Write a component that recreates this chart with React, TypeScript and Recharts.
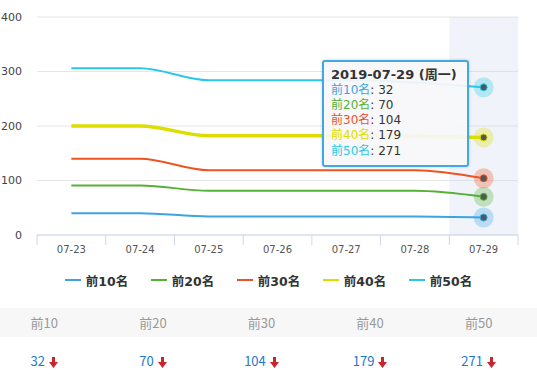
import React from 'react';
import { ComposedChart, Line, Bar, XAxis, YAxis, CartesianGrid, Tooltip, Legend } from 'recharts';

const dates = ['07-23', '07-24', '07-25', '07-26', '07-27', '07-28', '07-29'];
const year = '2019';
const weekdays = ['周二', '周三', '周四', '周五', '周六', '周日', '周一'];
const top10 = [40, 40, 34, 34, 34, 34, 32];
const top20 = [91, 91, 81, 81, 81, 81, 70];
const top30 = [140, 140, 119, 119, 119, 119, 104];
const top40 = [200, 200, 182, 182, 182, 181, 179];
const top50 = [306, 306, 284, 284, 284, 280, 271];
const highlightBand = [null, null, null, null, null, null, 400];
const seriesNames = ['前10名', '前20名', '前30名', '前40名', '前50名'];
const tableHeaders = ['前10', '前20', '前30', '前40', '前50'];
const yTicks = [0, 100, 200, 300, 400];

const seriesValues = [top10, top20, top30, top40, top50];
const seriesKeys = ['s10', 's20', 's30', 's40', 's50'];
const seriesColors = ['#3ca4e0', '#55b136', '#ee5322', '#dddd00', '#2ac8e6'];
const seriesWidths = [2, 2, 2, 3.5, 2];

const data = dates.map((d, i) => {
  const row: any = { date: d, hl: highlightBand[i] };
  seriesKeys.forEach((k, j) => { row[k] = seriesValues[j][i]; });
  return row;
});

const FONT = '"DejaVu Sans", "Noto Sans CJK SC", sans-serif';

const XTick = (props: any) => {
  const { x, y, payload, index, visibleTicksCount } = props;
  const off = payload && payload.offset != null ? payload.offset : 0;
  const lineColor = '#ccd6eb';
  const count = visibleTicksCount || dates.length;
  return (
    <g>
      <line x1={x - off} x2={x - off} y1={y - 10} y2={y} stroke={lineColor} />
      {index === count - 1 && <line x1={x + off} x2={x + off} y1={y - 10} y2={y} stroke={lineColor} />}
      <text x={x} y={y} dy="0.78em" textAnchor="middle" fill="#555" fontSize={10}>{payload.value}</text>
    </g>
  );
};

const ActiveDot = (color: string) => (props: any) => {
  const { cx, cy } = props;
  if (cx == null || cy == null) return null;
  return (
    <g>
      <circle cx={cx} cy={cy} r={10} fill={color} fillOpacity={0.3} />
      <circle cx={cx} cy={cy} r={3.5} fill="#555" stroke={color} strokeWidth={1} />
    </g>
  );
};

const TipContent = (props: any) => {
  const { active, payload, label } = props;
  if (!active || !payload || !payload.length) return null;
  const idx = dates.indexOf(label);
  const items = payload.filter((p: any) => p.dataKey !== 'hl');
  return (
    <div style={{
      boxSizing: 'border-box', width: 147, height: 107,
      border: '2px solid #41a8e2', borderRadius: 3,
      background: 'rgba(247,248,250,0.93)',
      boxShadow: '0 0 3px rgba(0,0,0,0.2)',
      padding: '6px 6px 6px 7px', fontFamily: FONT, whiteSpace: 'nowrap',
    }}>
      <div style={{ fontWeight: 'bold', fontSize: 13, lineHeight: '14.5px', color: '#333' }}>
        {year}-{label} ({weekdays[idx >= 0 ? idx : 0]})
      </div>
      {items.map((p: any) => (
        <div key={p.dataKey} style={{ fontSize: 12, lineHeight: '15.3px' }}>
          <span style={{ color: p.color }}>{p.name}</span>
          <span style={{ color: '#333' }}>: {p.value}</span>
        </div>
      ))}
    </div>
  );
};

const LegendContent = () => (
  <div style={{ display: 'flex', justifyContent: 'center', alignItems: 'center', height: 20, fontFamily: FONT }}>
    {seriesNames.map((n, i) => (
      <div key={n} style={{ width: 86, display: 'flex', alignItems: 'center', justifyContent: 'center' }}>
        <div style={{ width: 16, height: 2, background: seriesColors[i], marginRight: 5 }} />
        <span style={{ fontWeight: 'bold', fontSize: 12.5, color: '#333' }}>{n}</span>
      </div>
    ))}
  </div>
);

const DownArrow = () => (
  <svg width={9} height={11} viewBox="0 0 9 11" style={{ marginLeft: 4, verticalAlign: 'middle' }}>
    <polygon points="3,0 6,0 6,5 9,5 4.5,11 0,5 3,5" fill="#c8262b" />
  </svg>
);

export default function App() {
  return (
    <div style={{ position: 'absolute', left: 0, top: 0, width: 537, height: 380, background: '#fff', fontFamily: FONT, overflow: 'hidden' }}>
      <ComposedChart width={537} height={300} data={data} margin={{ top: 17, right: 19, bottom: 10, left: 0 }} barCategoryGap={0}>
        <CartesianGrid vertical={false} stroke="#e6e6e6" />
        <XAxis dataKey="date" interval={0} tickLine={false} axisLine={{ stroke: '#ccd6eb' }} tick={<XTick />} tickSize={6} tickMargin={4} height={35} />
        <YAxis domain={[0, 400]} ticks={yTicks} width={37} tickLine={false} axisLine={false} tickMargin={9} tick={{ fill: '#444', fontSize: 11 }} />
        <Bar dataKey="hl" fill="#c4d4ec" fillOpacity={0.25} isAnimationActive={false} legendType="none" />
        {seriesKeys.map((k, i) => (
          <Line key={k} type="monotone" dataKey={k} name={seriesNames[i]} stroke={seriesColors[i]} strokeWidth={seriesWidths[i]} dot={false} activeDot={ActiveDot(seriesColors[i])} isAnimationActive={false} />
        ))}
        <Legend verticalAlign="bottom" content={<LegendContent />} wrapperStyle={{ left: 0, width: 537 }} />
        <Tooltip active={true} defaultIndex={6} cursor={false} position={{ x: 322, y: 60 }} content={<TipContent />} isAnimationActive={false} wrapperStyle={{ outline: 'none' }} />
      </ComposedChart>
      <div style={{ position: 'absolute', left: 0, top: 308, width: 537, height: 29, background: '#f7f7f7' }} />
      <div style={{ position: 'absolute', left: -10, top: 308, width: 543, display: 'flex', fontFamily: '"Noto Sans CJK SC", sans-serif', fontSize: 13 }}>
        {tableHeaders.map((h, i) => (
          <div key={h} style={{ width: 108.6, textAlign: 'center' }}>
            <div style={{ height: 29, lineHeight: '29px', color: '#999' }}>{h}</div>
            <div style={{ height: 48, lineHeight: '48px', color: '#1f78cf' }}>
              {seriesValues[i][seriesValues[i].length - 1]}
              <DownArrow />
            </div>
          </div>
        ))}
      </div>
    </div>
  );
}
